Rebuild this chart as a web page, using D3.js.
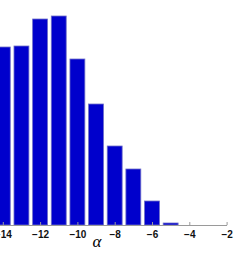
<!DOCTYPE html>
<html>
<head>
<meta charset="utf-8">
<style>
  body { margin: 0; background: #fff; }
  .axis path, .axis line { stroke: #9a9a9a; }
  .axis text { font-family: "Liberation Sans", Arial, sans-serif; font-size: 10px; font-weight: bold; fill: #111; }
  .xlabel { font-family: "Liberation Serif", "Times New Roman", serif; font-style: italic; font-size: 17px; }
</style>
<script src="https://d3js.org/d3.v7.min.js"></script>
</head>
<body>
<svg width="249" height="255"></svg>
<script>
  // histogram of alpha (bins at integer values)
  var alphas = [-14, -13, -12, -11, -10, -9, -8, -7, -6, -5];
  var counts = [178, 179, 206, 209, 166, 121, 79, 56, 24, 2];
  var tickVals = [-14, -12, -10, -8, -6, -4, -2];

  var svg = d3.select("svg");
  var baseY = 225;

  var x = d3.scaleLinear()
    .domain([-15, -2])
    .range([-15.85, 226.6]);

  var y = d3.scaleLinear()
    .domain([0, 225])
    .range([baseY, 0]);

  var unit = x(1) - x(0);
  var barW = unit * 0.8;

  svg.append("g")
    .selectAll("rect")
    .data(alphas)
    .enter().append("rect")
    .attr("x", function(d) { return x(d) - barW / 2; })
    .attr("width", barW)
    .attr("y", function(d, i) { return y(counts[i]); })
    .attr("height", function(d, i) { return baseY - y(counts[i]); })
    .attr("fill", "#0000cc")
    .attr("stroke", "#7070c8")
    .attr("stroke-width", 0.8);

  var axis = d3.axisBottom(x)
    .tickValues(tickVals)
    .tickSizeInner(-3)
    .tickSizeOuter(0)
    .tickPadding(6);

  svg.append("g")
    .attr("class", "axis")
    .attr("transform", "translate(0," + baseY + ")")
    .call(axis);

  svg.append("text")
    .attr("class", "xlabel")
    .attr("x", 97)
    .attr("y", 247)
    .attr("text-anchor", "middle")
    .text("α");
</script>
</body>
</html>
